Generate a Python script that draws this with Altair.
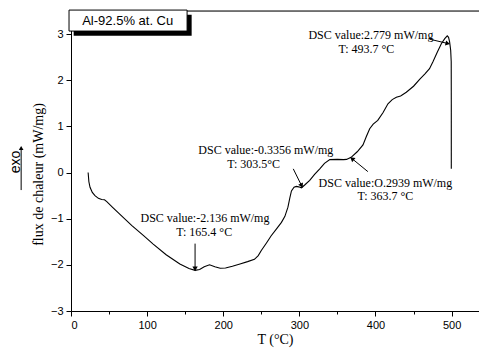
import math
import altair as alt
import pandas as pd

# Curve data
T = [22.5, 23.5, 25, 28, 31.5, 36, 40.3, 44, 47, 55, 64, 80, 95, 108, 125, 143, 155, 163, 169,
     175, 182, 189, 196, 203, 212, 222, 232, 241, 246, 250, 257, 263, 270, 276.5, 281, 285,
     287.5, 289.6, 293, 296, 299, 302.8, 307, 313.6, 320, 326.8, 333, 340, 350, 358, 362, 368,
     376, 383.6, 388, 392.4, 397, 403, 410, 416.4, 422, 427.4, 433, 440.5, 450, 458, 465, 471,
     475.5, 481, 486.5, 491, 494.3, 496, 497.4, 498.8, 499.5, 499.6, 499.6]
DSC = [0.0, -0.2, -0.32, -0.43, -0.5, -0.56, -0.585, -0.59, -0.63, -0.76, -0.9, -1.15, -1.36,
       -1.55, -1.78, -1.98, -2.08, -2.12, -2.1, -2.04, -2.0, -2.04, -2.075, -2.07, -2.03, -1.98,
       -1.93, -1.88, -1.8, -1.69, -1.52, -1.37, -1.22, -1.08, -0.95, -0.75, -0.55, -0.4, -0.32,
       -0.30, -0.31, -0.33, -0.27, -0.17, -0.04, 0.08, 0.2, 0.28, 0.285, 0.28, 0.285, 0.33, 0.45,
       0.6, 0.78, 0.95, 1.05, 1.13, 1.3, 1.49, 1.58, 1.63, 1.66, 1.74, 1.87, 2.02, 2.14, 2.25,
       2.4, 2.6, 2.79, 2.9, 2.96, 2.93, 2.83, 2.65, 2.4, 1.5, 0.08]

# Annotations (text lines)
ann_text = ["DSC value:-2.136 mW/mg", "T: 165.4 °C",
            "DSC value:-0.3356 mW/mg", "T: 303.5°C",
            "DSC value:O.2939 mW/mg", "T: 363.7 °C",
            "DSC value:2.779 mW/mg", "T: 493.7 °C"]
ann_x = [176, 175, 256, 240, 413, 413, 394, 388]
ann_y = [-0.98, -1.28, 0.48, 0.18, -0.23, -0.51, 2.99, 2.67]

# Arrows: start -> end (head at end)
arr_x1 = [163, 292, 390, 471]
arr_y1 = [-1.54, 0.08, 0.02, 2.89]
arr_x2 = [163, 302.5, 370, 494]
arr_y2 = [-2.07, -0.27, 0.29, 2.8]

XMIN, XMAX = 0, 536
YMIN, YMAX = -3, 3.5
W, H = 408, 300
sx = W / (XMAX - XMIN)
sy = H / (YMAX - YMIN)

df = pd.DataFrame({"T": T, "DSC": DSC, "i": range(len(T))})
xs = alt.Scale(domain=[XMIN, XMAX], nice=False, zero=False)
ys = alt.Scale(domain=[YMIN, YMAX], nice=False, zero=False)

xaxis = alt.Axis(values=list(range(0, 501, 50)), labelExpr="datum.value % 100 === 0 ? datum.label : ''",
                 tickSize={"expr": "datum.value % 100 === 0 ? 5 : 3"}, grid=False,
                 title="T (°C)", titleFont="Liberation Serif", titleFontSize=14, titleFontWeight="normal",
                 titlePadding=2, labelFont="Liberation Sans", labelFontSize=11, labelPadding=3,
                 domainColor="black", tickColor="black", labelColor="black", titleColor="black")
yaxis = alt.Axis(values=[v / 2 for v in range(-6, 7)],
                 labelExpr="datum.value % 1 === 0 ? format(datum.value, 'd') : ''",
                 tickSize={"expr": "datum.value % 1 === 0 ? 5 : 3"}, grid=False,
                 title="flux de chaleur (mW/mg)", titleFont="Liberation Serif", titleFontSize=14,
                 titleFontWeight="normal", titlePadding=5, titleY=163, labelFont="Liberation Sans",
                 labelFontSize=11, labelPadding=3, domainColor="black", tickColor="black",
                 labelColor="black", titleColor="black")

curve = alt.Chart(df).mark_line(color="black", strokeWidth=1.1).encode(
    x=alt.X("T:Q", scale=xs, axis=xaxis),
    y=alt.Y("DSC:Q", scale=ys, axis=yaxis),
    order="i:Q",
)

top = alt.Chart(pd.DataFrame({"a": [XMIN], "b": [XMAX], "y": [YMAX]})).mark_rule(
    color="black", strokeWidth=1).encode(x=alt.X("a:Q", scale=xs), x2="b:Q", y=alt.Y("y:Q", scale=ys))

ann = alt.Chart(pd.DataFrame({"x": ann_x, "y": ann_y, "t": ann_text})).mark_text(
    font="Liberation Serif", fontSize=12, color="black", align="center", baseline="middle").encode(
    x=alt.X("x:Q", scale=xs), y=alt.Y("y:Q", scale=ys), text="t:N")

arr_df = pd.DataFrame({"x1": arr_x1, "y1": arr_y1, "x2": arr_x2, "y2": arr_y2})
arr_df["ang"] = [
    (math.degrees(math.atan2((b2 - b1) * sx, (a2 - a1) * sy)) + 360) % 360
    for b1, a1, b2, a2 in zip(arr_x1, arr_y1, arr_x2, arr_y2)
]
shafts = alt.Chart(arr_df).mark_rule(color="black", strokeWidth=1).encode(
    x=alt.X("x1:Q", scale=xs), y=alt.Y("y1:Q", scale=ys), x2="x2:Q", y2="y2:Q")
heads = alt.Chart(arr_df).mark_point(shape="triangle", filled=True, color="black", size=28,
                                     opacity=1).encode(
    x=alt.X("x2:Q", scale=xs), y=alt.Y("y2:Q", scale=ys), angle=alt.Angle("ang:Q", scale=None))

# Sample label box with shadow
box_df = pd.DataFrame({"x": [-2.6], "x2": [152.5], "y": [3.52], "y2": [3.065]})
shadow_df = pd.DataFrame({"x": [3.5], "x2": [158.5], "y": [3.42], "y2": [2.965]})
shadow = alt.Chart(shadow_df).mark_rect(color="black").encode(
    x=alt.X("x:Q", scale=xs), x2="x2:Q", y=alt.Y("y:Q", scale=ys), y2="y2:Q")
box = alt.Chart(box_df).mark_rect(fill="white", stroke="black", strokeWidth=1).encode(
    x=alt.X("x:Q", scale=xs), x2="x2:Q", y=alt.Y("y:Q", scale=ys), y2="y2:Q")
box_text = alt.Chart(pd.DataFrame({"x": [74.5], "y": [3.29], "t": ["Al-92.5% at. Cu"]})).mark_text(
    font="Liberation Sans", fontSize=13, color="black").encode(
    x=alt.X("x:Q", scale=xs), y=alt.Y("y:Q", scale=ys), text="t:N")

# "exo" label with arrow
exo = alt.Chart(pd.DataFrame({"x": [-72.9], "y": [0.23], "t": ["exo"]})).mark_text(
    font="Liberation Sans", fontSize=14, angle=270, baseline="middle", color="black").encode(
    x=alt.X("x:Q", scale=xs), y=alt.Y("y:Q", scale=ys), text="t:N")
exo_line = alt.Chart(pd.DataFrame({"x": [-65.5], "y": [-0.38], "y2": [0.5]})).mark_rule(
    color="black", strokeWidth=1).encode(x=alt.X("x:Q", scale=xs), y=alt.Y("y:Q", scale=ys), y2="y2:Q")
exo_head = alt.Chart(pd.DataFrame({"x": [-65.5], "y": [0.53]})).mark_point(
    shape="triangle-up", filled=True, color="black", size=22, opacity=1).encode(
    x=alt.X("x:Q", scale=xs), y=alt.Y("y:Q", scale=ys))

chart = alt.layer(curve, top, shafts, heads, ann, shadow, box, box_text, exo, exo_line, exo_head).properties(
    width=W, height=H, autosize=alt.AutoSizeParams(type="none"),
    padding={"left": 63, "top": 3, "right": 0, "bottom": 37},
).configure_view(stroke=None).configure(background="white")

chart.save("out.html", embed_options={"renderer": "svg", "actions": False})
